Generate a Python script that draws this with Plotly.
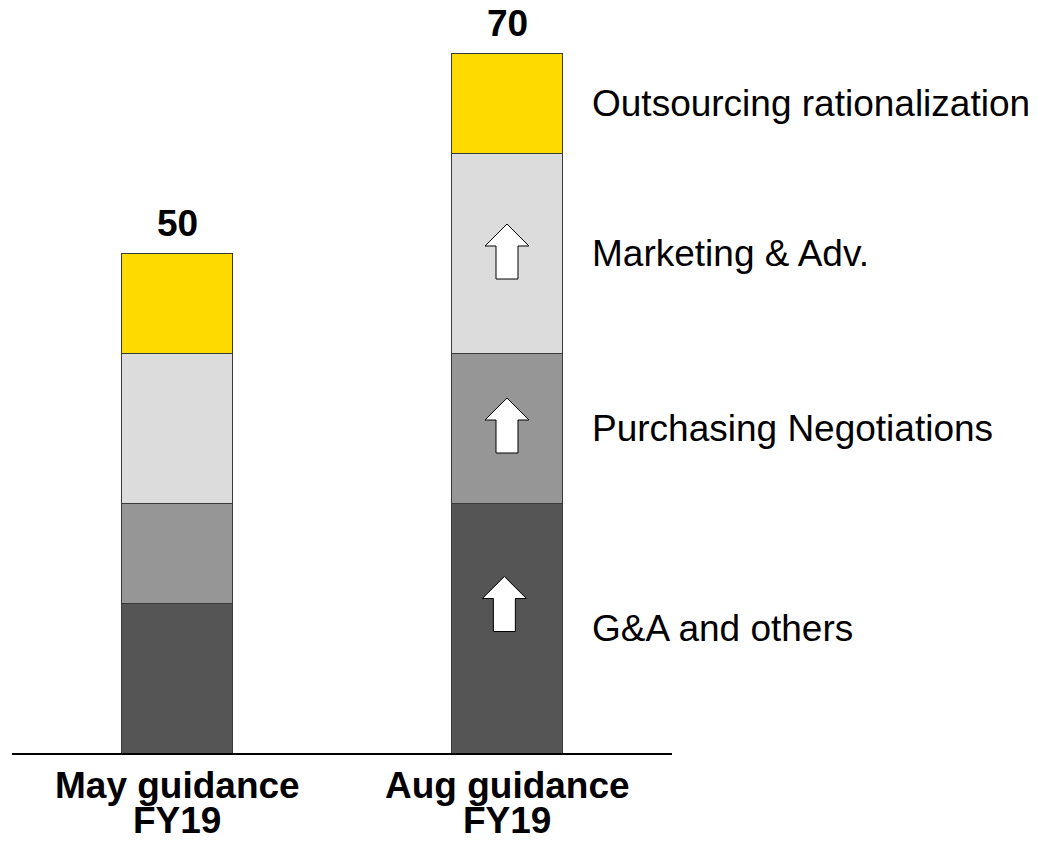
import plotly.graph_objects as go

# Data
categories = ["May guidance<br>FY19", "Aug guidance<br>FY19"]
segments = ["G&A and others", "Purchasing Negotiations", "Marketing & Adv.", "Outsourcing rationalization"]
ga_values = [15, 25]
purchasing_values = [10, 15]
marketing_values = [15, 20]
outsourcing_values = [10, 10]
totals = [50, 70]

colors = ["#555555", "#969696", "#DCDCDC", "#FFDA00"]
font_family = "Arial, Liberation Sans, sans-serif"

x_pos = [0, 1]
series = [ga_values, purchasing_values, marketing_values, outsourcing_values]

fig = go.Figure()
for name, vals, col in zip(segments, series, colors):
    fig.add_trace(go.Bar(
        x=x_pos, y=vals, name=name, width=0.336,
        marker=dict(color=col, line=dict(color="#3a3a3a", width=1)),
        hoverinfo="skip",
    ))

# total labels above bars
for xp, t in zip(x_pos, totals):
    fig.add_annotation(x=xp, y=t, text="<b>%d</b>" % t, showarrow=False,
                       yanchor="bottom", yshift=7,
                       font=dict(size=37, color="black", family=font_family))

# segment labels to the right of the second bar
base = 0
for name, vals in zip(segments, series):
    mid = base + vals[1] / 2
    base += vals[1]
    fig.add_annotation(x=1.251, y=mid, text=name, showarrow=False,
                       xanchor="left", yanchor="middle",
                       font=dict(size=37, color="black", family=font_family))

# category labels under the axis, two lines each
for xp, cat in zip(x_pos, categories):
    for i, line in enumerate(cat.split("<br>")):
        fig.add_annotation(x=xp, y=0, yref="paper", text="<b>%s</b>" % line,
                           showarrow=False, yanchor="middle", yshift=-32 - 35.5 * i,
                           font=dict(size=37, color="black", family=font_family))

# white up arrows inside the Aug bar
arrow_centers = [14.9, 32.75, 50.15]
for yc in arrow_centers:
    xc = 1 - 0.008 if yc < 20 else 1
    hh, hw, sw, head = 2.75, 0.0667, 0.0333, 2.2
    path = ("M {a},{b} L {c},{d} L {e},{d} L {e},{f} L {g},{f} L {g},{d} L {h},{d} Z"
            .format(a=xc, b=yc + hh, c=xc + hw, d=yc + hh - head, e=xc + sw,
                    f=yc - hh, g=xc - sw, h=xc - hw))
    fig.add_shape(type="path", path=path, xref="x", yref="y",
                  fillcolor="white", line=dict(color="black", width=1))

fig.update_layout(
    barmode="stack",
    width=1037, height=850,
    margin=dict(l=4, r=373, t=0, b=105),
    plot_bgcolor="white", paper_bgcolor="white",
    showlegend=False,
    font=dict(family=font_family),
    xaxis=dict(range=[-0.5, 1.5], showticklabels=False, showgrid=False,
               zeroline=False, showline=True, linecolor="black", linewidth=2,
               fixedrange=True),
    yaxis=dict(range=[0, 74.5], visible=False, fixedrange=True),
)

fig.write_html("out.html")
